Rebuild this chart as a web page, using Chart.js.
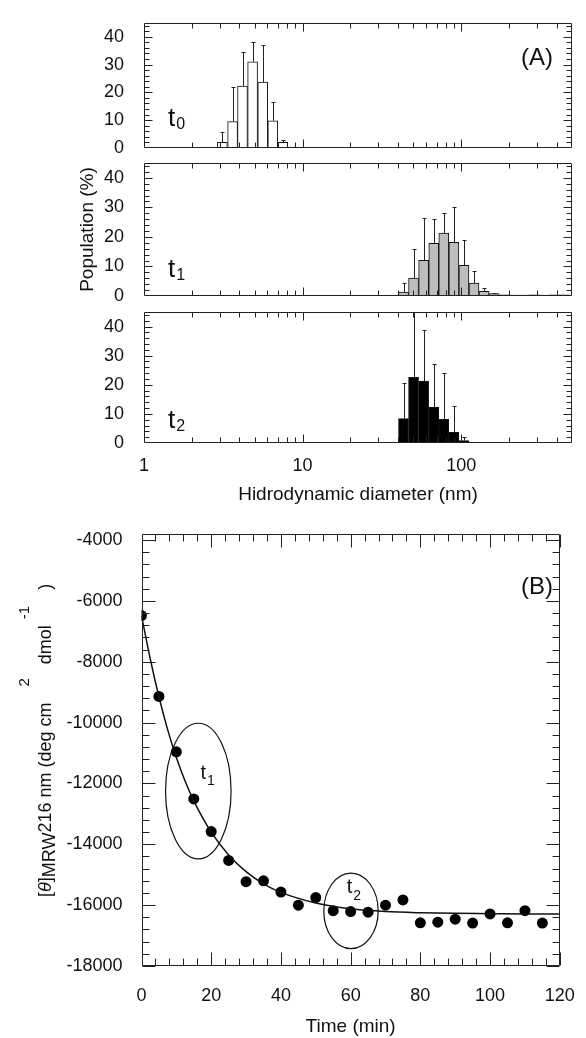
<!DOCTYPE html>
<html>
<head>
<meta charset="utf-8">
<script src="https://cdn.jsdelivr.net/npm/chart.js"></script>
<style>
body { margin: 0; background: #fff; }
#wrap { position: relative; width: 586px; height: 1038px; }
#wrap canvas { position: absolute; left: 0; top: 0; }
</style>
</head>
<body>
<div id="wrap">
<canvas id="c0" width="586" height="1038"></canvas>
<canvas id="c1" width="586" height="1038"></canvas>
<canvas id="c2" width="586" height="1038"></canvas>
<canvas id="c3" width="586" height="1038"></canvas>
</div>
<script>
// panel A: size distributions (bin centres in nm, population %, upper error)
var diamSmall = [3.12, 3.62, 4.18, 4.84, 5.61, 6.49, 7.51, 8.69];
var popT0 = [2.0, 9.5, 22.3, 31.0, 23.7, 9.8, 2.0, 0.3];
var errT0 = [3.7, 12.3, 12.2, 7.0, 13.3, 6.6, 1.0, 0];

var diamLarge = [43.3, 50.1, 58.0, 67.2, 77.7, 90.0, 104.1, 120.5, 139.4, 161.4, 186.8, 216.1, 250.1, 289.4, 335.0, 387.6, 448.6];
var popT1 = [1.3, 6.1, 12.1, 17.8, 21.3, 18.2, 10.4, 4.4, 1.6, 0.8, 0.4, 0.3, 0.3, 0.4, 0.3, 0.4, 0.4];
var errT1 = [3.0, 9.9, 14.3, 8.3, 6.8, 11.9, 8.4, 3.9, 1.1, 0.3, 0, 0, 0, 0, 0, 0, 0];
var popT2 = [8.4, 22.6, 21.3, 12.3, 8.1, 3.7, 0.8, 0.2];
var errT2 = [12.2, 25.4, 17.5, 14.9, 16.1, 9.1, 1.2, 0];

var diamTicks = [1, 10, 100];
var popTicks = [0, 10, 20, 30, 40];

// panel B: ellipticity vs time
var time = [0, 5, 10, 15, 20, 25, 30, 35, 40, 45, 50, 55, 60, 65, 70, 75, 80, 85, 90, 95, 100, 105, 110, 115];
var theta = [-6480, -9140, -10960, -12510, -13580, -14530, -15230, -15200, -15570, -16000, -15750, -16180,
             -16210, -16230, -16000, -15830, -16580, -16560, -16460, -16590, -16290, -16580, -16180, -16590];
var fitTime = [0, 2.5, 5, 7.5, 10, 12.5, 15, 20, 25, 30, 35, 40, 50, 60, 70, 80, 90, 100, 110, 120];
var fitTheta = [-6480, -7900, -9150, -10230, -11150, -11920, -12570, -13600, -14350, -14900, -15300, -15580,
                -15930, -16120, -16210, -16250, -16270, -16280, -16290, -16290];
var timeTicks = [0, 20, 40, 60, 80, 100, 120];
var thetaTicks = [-18000, -16000, -14000, -12000, -10000, -8000, -6000, -4000];

// circled regions t1 / t2 (centre, half-width in min, half-height in ellipticity units)
var ovalX = [16.3, 60.1];
var ovalY = [-12250, -16190];
var ovalRX = [9.4, 7.8];
var ovalRY = [2230, 1240];

var FONT = '"Liberation Sans", Arial, Helvetica, sans-serif';
Chart.defaults.font.family = FONT;
Chart.defaults.font.size = 18;
Chart.defaults.color = '#111';
Chart.defaults.animation = false;

// minor tick positions
var diamMinor = [2, 3, 4, 5, 6, 7, 8, 9, 20, 30, 40, 50, 60, 70, 80, 90, 200, 300, 400];
var popMinor = [];
for (var v = 2; v < 45; v += 2) if (v % 10) popMinor.push(v);
var timeMinor = [];
for (var v = 4; v < 120; v += 4) if (v % 20) timeMinor.push(v);
var thetaMinor = [];
for (var v = -17600; v <= -3800; v += 400) if (v % 2000) thetaMinor.push(v);

function edgeTicks(t) {
	return {
		id: 'edgeTicks',
		afterDatasetsDraw: function(chart) {
			var ctx = chart.ctx, a = chart.chartArea, xs = chart.scales.x, ys = chart.scales.y;
			var L = Math.round(a.left) + 0.5, R = Math.round(a.right) - 0.5;
			var T = Math.round(a.top) + 0.5, B = Math.round(a.bottom) - 0.5;
			ctx.save();
			ctx.strokeStyle = '#222';
			ctx.lineWidth = 1;
			ctx.beginPath();
			function xt(v, len) {
				var p = Math.round(xs.getPixelForValue(v)) + 0.5;
				ctx.moveTo(p, B); ctx.lineTo(p, B - len);
				ctx.moveTo(p, T); ctx.lineTo(p, T + len);
			}
			function yt(v, len) {
				var p = Math.round(ys.getPixelForValue(v)) + 0.5;
				ctx.moveTo(L, p); ctx.lineTo(L + len, p);
				ctx.moveTo(R, p); ctx.lineTo(R - len, p);
			}
			t.xMinor.forEach(function(v) { xt(v, t.minor); });
			t.xMajor.forEach(function(v) { xt(v, t.major); });
			t.yMinor.forEach(function(v) { yt(v, t.minor); });
			t.yMajor.forEach(function(v) { yt(v, t.major); });
			ctx.rect(L, T, R - L, B - T);
			ctx.stroke();
			ctx.restore();
		}
	};
}

function errorBars(errs) {
	return {
		id: 'errorBars',
		afterDatasetsDraw: function(chart) {
			var ctx = chart.ctx, a = chart.chartArea, ys = chart.scales.y;
			var meta = chart.getDatasetMeta(0), data = chart.data.datasets[0].data;
			ctx.save();
			ctx.beginPath();
			ctx.rect(a.left, a.top, a.right - a.left, a.bottom - a.top);
			ctx.clip();
			ctx.strokeStyle = '#222';
			ctx.lineWidth = 1;
			ctx.beginPath();
			meta.data.forEach(function(bar, i) {
				if (!errs[i]) return;
				var x = Math.round(bar.x) + 0.5;
				var y0 = ys.getPixelForValue(data[i].y);
				var y1 = Math.round(ys.getPixelForValue(data[i].y + errs[i])) + 0.5;
				ctx.moveTo(x, y0); ctx.lineTo(x, y1);
				ctx.moveTo(x - 2, y1); ctx.lineTo(x + 2, y1);
			});
			ctx.stroke();
			ctx.restore();
		}
	};
}

// text labels such as t0 and (A); px positions or data positions (dx, dy)
function textLabels(items) {
	return {
		id: 'textLabels',
		afterDraw: function(chart) {
			var ctx = chart.ctx, xs = chart.scales.x, ys = chart.scales.y;
			ctx.save();
			ctx.fillStyle = '#111';
			ctx.textBaseline = 'alphabetic';
			items.forEach(function(it) {
				var x = it.dx !== undefined ? xs.getPixelForValue(it.dx) : it.x;
				var y = it.dy !== undefined ? ys.getPixelForValue(it.dy) : it.y;
				ctx.font = it.size + 'px ' + FONT;
				ctx.fillText(it.text, x, y);
				if (it.sub) {
					var w = ctx.measureText(it.text).width;
					ctx.font = it.subSize + 'px ' + FONT;
					ctx.fillText(it.sub, x + w + 1, y + it.subDy);
				}
			});
			ctx.restore();
		}
	};
}

function histChart(id, diam, pop, err, fill, top, bottom, showAxis, showTitle, labels) {
	var axisH = showAxis ? 70 : 0;
	return new Chart(document.getElementById(id), {
		type: 'bar',
		data: {
			datasets: [{
				data: diam.map(function(d, i) { return { x: d, y: pop[i] }; }),
				backgroundColor: fill,
				borderColor: '#111',
				borderWidth: 1,
				barPercentage: 1,
				categoryPercentage: 1
			}]
		},
		options: {
			responsive: false,
			animation: false,
			layout: { autoPadding: false, padding: { left: 0, right: 14, top: top, bottom: 1038 - bottom - axisH } },
			plugins: { legend: { display: false }, tooltip: { enabled: false } },
			scales: {
				x: {
					type: 'logarithmic', min: 1, max: 500, bounds: 'data', offset: false,
					display: showAxis,
					grid: { display: false }, border: { display: false },
					ticks: { padding: 4.5, maxRotation: 0, autoSkip: false, callback: function(v) { return String(v); } },
					afterBuildTicks: function(s) { s.ticks = diamTicks.map(function(v) { return { value: v }; }); },
					afterFit: function(s) { s.height = axisH; },
					title: { display: showAxis, text: 'Hidrodynamic diameter (nm)', font: { size: 19 }, padding: { top: 0, bottom: 6.6 } }
				},
				y: {
					min: 0, max: 45, bounds: 'data',
					grid: { display: false }, border: { display: false },
					ticks: { stepSize: 10, includeBounds: false, padding: 12 },
					afterBuildTicks: function(s) { s.ticks = popTicks.map(function(v) { return { value: v }; }); },
					afterFit: function(s) { s.width = 144; },
					title: { display: showTitle, text: 'Population (%)', font: { size: 19 }, padding: { top: 76, bottom: 0 } }
				}
			}
		},
		plugins: [
			edgeTicks({ xMinor: diamMinor, xMajor: [10, 100], yMinor: popMinor, yMajor: [10, 20, 30, 40], minor: 5, major: 8 }),
			errorBars(err),
			textLabels(labels)
		]
	});
}

histChart('c0', diamSmall, popT0, errT0, '#ffffff', 14, 148, false, false, [
	{ text: '(A)', x: 521, y: 65, size: 24 },
	{ text: 't', sub: '0', x: 168, y: 126, size: 26, subSize: 16, subDy: 3 }
]);
histChart('c1', diamLarge, popT1, errT1, '#bdbdbd', 163, 296, false, true, [
	{ text: 't', sub: '1', x: 168, y: 277, size: 26, subSize: 16, subDy: 3 }
]);
histChart('c2', diamLarge.slice(0, popT2.length), popT2, errT2, '#000000', 312, 443, true, false, [
	{ text: 't', sub: '2', x: 168, y: 428, size: 26, subSize: 16, subDy: 3 }
]);

var ovals = {
	id: 'ovals',
	afterDatasetsDraw: function(chart) {
		var ctx = chart.ctx, xs = chart.scales.x, ys = chart.scales.y;
		ctx.save();
		ctx.strokeStyle = '#111';
		ctx.lineWidth = 1.2;
		for (var i = 0; i < ovalX.length; i++) {
			var cx = xs.getPixelForValue(ovalX[i]), cy = ys.getPixelForValue(ovalY[i]);
			var rx = Math.abs(xs.getPixelForValue(ovalX[i] + ovalRX[i]) - cx);
			var ry = Math.abs(ys.getPixelForValue(ovalY[i] + ovalRY[i]) - cy);
			ctx.beginPath();
			ctx.ellipse(cx, cy, rx, ry, 0, 0, Math.PI * 2);
			ctx.stroke();
		}
		ctx.restore();
	}
};

// rotated y title with sub/superscripts
var yTitleB = {
	id: 'yTitleB',
	afterDraw: function(chart) {
		var ctx = chart.ctx;
		var segs = [
			['[', '18px', 0, 0],
			['\u03B8', 'italic 18px', 0, 0],
			[']', '18px', 0, 0],
			['MRW', '18px', 4, 0],
			['216 nm (deg cm', '18px', 0, 0],
			['2', '15px', -22, 16],
			['dmol', '18px', 0, 14],
			['-1', '15px', -22, 6],
			[')', '18px', 0, 16]
		];
		ctx.save();
		ctx.translate(51, 897);
		ctx.rotate(-Math.PI / 2);
		ctx.fillStyle = '#111';
		ctx.textBaseline = 'alphabetic';
		var u = 0;
		segs.forEach(function(s) {
			u += s[3];
			ctx.font = s[1] + ' ' + FONT;
			ctx.fillText(s[0], u, s[2]);
			u += ctx.measureText(s[0]).width;
		});
		ctx.restore();
	}
};

new Chart(document.getElementById('c3'), {
	type: 'scatter',
	data: {
		datasets: [
			{
				data: fitTime.map(function(t, i) { return { x: t, y: fitTheta[i] }; }),
				showLine: true,
				borderColor: '#111',
				borderWidth: 1.5,
				pointRadius: 0,
				cubicInterpolationMode: 'monotone'
			},
			{
				data: time.map(function(t, i) { return { x: t, y: theta[i] }; }),
				backgroundColor: '#000',
				borderWidth: 0,
				pointRadius: 5.5
			}
		]
	},
	options: {
		responsive: false,
		animation: false,
		layout: { autoPadding: false, padding: { left: 0, right: 16, top: 534, bottom: 0 } },
		plugins: { legend: { display: false }, tooltip: { enabled: false } },
		scales: {
			x: {
				type: 'linear', min: 0, max: 120, bounds: 'data',
				grid: { display: false }, border: { display: false },
				ticks: { stepSize: 20, padding: 11.2, maxRotation: 0, autoSkip: false, callback: function(v) { return String(v); } },
				afterBuildTicks: function(s) { s.ticks = timeTicks.map(function(v) { return { value: v }; }); },
				afterFit: function(s) { s.height = 72; },
				title: { display: true, text: 'Time (min)', font: { size: 19 }, padding: { top: 0, bottom: 0 } }
			},
			y: {
				min: -18000, max: -3800, bounds: 'data',
				grid: { display: false }, border: { display: false },
				ticks: { stepSize: 2000, includeBounds: false, padding: 11, callback: function(v) { return String(v); } },
				afterBuildTicks: function(s) { s.ticks = thetaTicks.map(function(v) { return { value: v }; }); },
				afterFit: function(s) { s.width = 141.5; }
			}
		}
	},
	plugins: [
		edgeTicks({ xMinor: timeMinor, xMajor: timeTicks, yMinor: thetaMinor, yMajor: thetaTicks, minor: 7, major: 13 }),
		ovals,
		yTitleB,
		textLabels([
			{ text: '(B)', x: 521, y: 594, size: 24 },
			{ text: 't', sub: '1', dx: 16.9, dy: -11845, size: 20, subSize: 14, subDy: 6 },
			{ text: 't', sub: '2', dx: 58.9, dy: -15600, size: 20, subSize: 14, subDy: 7 }
		])
	]
});
</script>
</body>
</html>
